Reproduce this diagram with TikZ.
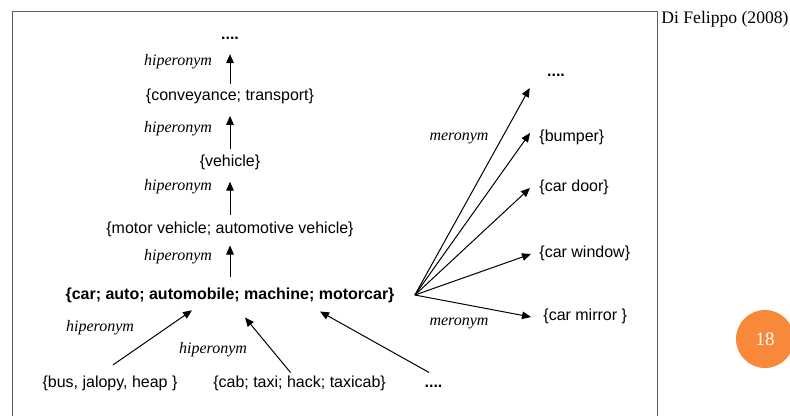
\documentclass[tikz,border=0pt]{standalone}
\usepackage{fontspec}
\setmainfont{Liberation Sans}
\newfontfamily\serifrm{Liberation Serif}
\usepackage{xcolor}
\usetikzlibrary{positioning, arrows.meta, calc}
\definecolor{framegray}{HTML}{5E5E5E}
\definecolor{slideorange}{HTML}{F8893A}

\begin{document}
\begin{tikzpicture}[
    x=0.5pt, y=-0.5pt,
    synset/.style={inner sep=2pt, text height=6pt, text depth=1.7pt, font=\fontsize{8}{9.6}\selectfont},
    relname/.style={inner sep=0pt, font=\serifrm\itshape\fontsize{8}{9.6}\selectfont},
    arrow/.style={-{Triangle[length=4.5pt, width=3.8pt]}, line width=0.5pt, shorten <=1pt, shorten >=3.6pt},
    tiparrow/.style={-{Triangle[length=4.5pt, width=3.8pt]}, line width=0.5pt}
]
\useasboundingbox (0,0) rectangle (790,416);
\draw[framegray, line width=0.65pt] (12.5,416) -- (12.5,11.5) -- (657.5,11.5) -- (657.5,416);

\node[synset, font=\bfseries\fontsize{8}{9.6}\selectfont] (car) at (230,295) {\{car; auto; automobile; machine; motorcar\}};
\node[synset, above=20.8pt of car] (motor) {\{motor vehicle; automotive vehicle\}};
\node[synset, above=21.3pt of motor] (vehicle) {\{vehicle\}};
\node[synset, above=20.8pt of vehicle] (conveyance) {\{conveyance; transport\}};
\node[synset, font=\bfseries\fontsize{8}{9.6}\selectfont, above=18.5pt of conveyance] (topdots) {....};

\node[synset] (bus) at (110,383) {\{bus, jalopy, heap \}};
\node[synset, right=13.5pt of bus] (cab) {\{cab; taxi; hack; taxicab\}};
\node[synset, font=\bfseries\fontsize{8}{9.6}\selectfont, right=15pt of cab] (botdots) {....};

\coordinate (hub) at ([xshift=8pt]car.east);
\node[synset, font=\bfseries\fontsize{8}{9.6}\selectfont] (partdots) at (556,72) {....};
\node[synset, anchor=west] (bumper) at (535,137) {\{bumper\}};
\node[synset, anchor=west] (cardoor) at (535,187) {\{car door\}};
\node[synset, anchor=west] (carwindow) at (535,253) {\{car window\}};
\node[synset, anchor=west] (carmirror) at (539,316) {\{car mirror \}};

\node[relname] (hip1) at (178,62) {hiperonym};
\node[relname] (hip2) at (178,129) {hiperonym};
\node[relname] (hip3) at (178,187) {hiperonym};
\node[relname] (hip4) at (178,257) {hiperonym};
\node[relname] (hip5) at (100,328) {hiperonym};
\node[relname] (hip6) at (213,350) {hiperonym};
\node[relname] (mer1) at (459,138) {meronym};
\node[relname] (mer2) at (459,323) {meronym};

\node[anchor=west, inner sep=0pt, font=\serifrm\fontsize{8.8}{10}\selectfont] (source) at (661,19) {Di Felippo (2008)};
\node[circle, fill=slideorange, minimum size=29pt, inner sep=0pt, text=white, font=\serifrm\fontsize{9.5}{11}\selectfont] (slidenum) at (765,339) {18};

\draw[arrow, shorten <=3.2pt, shorten >=2.1pt] (car) -- (motor);
\draw[arrow] (motor) -- (vehicle);
\draw[arrow, shorten <=0.6pt] (vehicle) -- (conveyance);
\draw[arrow, shorten <=0pt, shorten >=3.3pt] (conveyance) -- (topdots);

\draw[tiparrow] ([shift={(1.5pt,3pt)}]bus.north) -- ([shift={(-19pt,-1.6pt)}]car.south);
\draw[tiparrow] ([shift={(-4.5pt,-0.8pt)}]cab.north) -- ([shift={(7.5pt,-5.2pt)}]car.south);
\draw[tiparrow] ([shift={(-2.2pt,-0.8pt)}]botdots.north) -- ([shift={(45pt,-2.2pt)}]car.south);

\draw[tiparrow] (hub) -- ([shift={(-6.5pt,-8pt)}]partdots.west);
\draw[tiparrow] (hub) -- ([shift={(-2.5pt,2pt)}]bumper.west);
\draw[tiparrow] (hub) -- ([shift={(-2.5pt,-0.5pt)}]cardoor.west);
\draw[tiparrow] (hub) -- ([shift={(-2pt,-0.5pt)}]carwindow.west);
\draw[tiparrow] (hub) -- ([shift={(-4pt,-0.5pt)}]carmirror.west);
\end{tikzpicture}
\end{document}
